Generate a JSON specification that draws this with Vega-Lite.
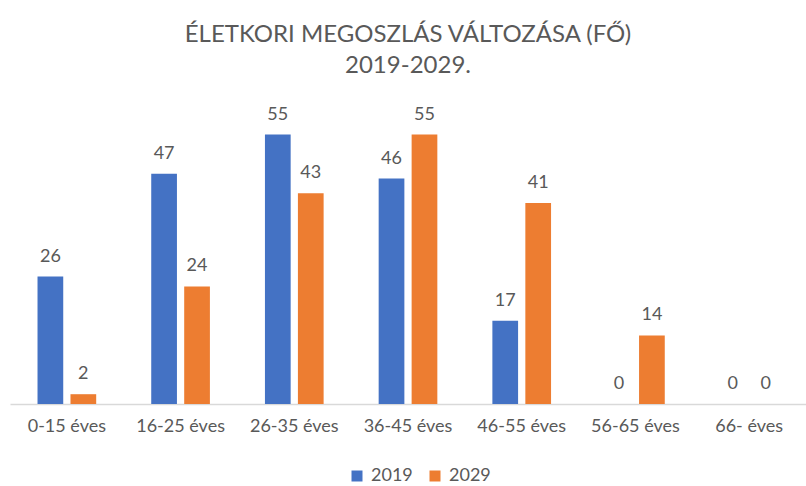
{
  "$schema": "https://vega.github.io/schema/vega-lite/v6.json",
  "autosize": "none",
  "width": 796,
  "height": 294,
  "padding": {"left": 10, "top": 110, "right": 0, "bottom": 82},
  "background": "white",
  "title": {
    "text": ["ÉLETKORI MEGOSZLÁS VÁLTOZÁSA (FŐ)", "2019-2029."],
    "font": "Lato",
    "fontSize": 24,
    "fontWeight": "normal",
    "color": "#595959",
    "lineHeight": 31,
    "anchor": "middle",
    "offset": 28
  },
  "data": {
    "values": [
      {"kor": "0-15 éves", "ev": "2019", "fo": 26},
      {"kor": "0-15 éves", "ev": "2029", "fo": 2},
      {"kor": "16-25 éves", "ev": "2019", "fo": 47},
      {"kor": "16-25 éves", "ev": "2029", "fo": 24},
      {"kor": "26-35 éves", "ev": "2019", "fo": 55},
      {"kor": "26-35 éves", "ev": "2029", "fo": 43},
      {"kor": "36-45 éves", "ev": "2019", "fo": 46},
      {"kor": "36-45 éves", "ev": "2029", "fo": 55},
      {"kor": "46-55 éves", "ev": "2019", "fo": 17},
      {"kor": "46-55 éves", "ev": "2029", "fo": 41},
      {"kor": "56-65 éves", "ev": "2019", "fo": 0},
      {"kor": "56-65 éves", "ev": "2029", "fo": 14},
      {"kor": "66- éves", "ev": "2019", "fo": 0},
      {"kor": "66- éves", "ev": "2029", "fo": 0}
    ]
  },
  "encoding": {
    "x": {
      "field": "kor",
      "type": "nominal",
      "sort": null,
      "title": null,
      "scale": {"paddingInner": 0.484, "paddingOuter": 0.242},
      "axis": {
        "labelAngle": 0,
        "labelFont": "Lato",
        "labelFontSize": 18,
        "labelColor": "#595959",
        "labelPadding": 13,
        "ticks": false,
        "domainColor": "#d9d9d9",
        "domainWidth": 1.5,
        "grid": false
      }
    },
    "xOffset": {
      "field": "ev",
      "type": "nominal",
      "scale": {"paddingInner": 0.22, "paddingOuter": 0}
    },
    "y": {
      "field": "fo",
      "type": "quantitative",
      "scale": {"domain": [0, 60], "nice": false},
      "axis": null
    }
  },
  "layer": [
    {
      "mark": {"type": "bar"},
      "encoding": {
        "color": {
          "field": "ev",
          "type": "nominal",
          "scale": {"domain": ["2019", "2029"], "range": ["#4472C4", "#ED7D31"]},
          "legend": {
            "orient": "none",
            "legendX": 338,
            "legendY": 357,
            "direction": "horizontal",
            "title": null,
            "symbolType": "square",
            "symbolSize": 121,
            "symbolStrokeWidth": 0,
            "labelFont": "Lato",
            "labelFontSize": 18,
            "labelColor": "#595959",
            "labelOffset": 5,
            "columnPadding": 13
          }
        }
      }
    },
    {
      "mark": {
        "type": "text",
        "baseline": "bottom",
        "dy": -11,
        "font": "Lato",
        "fontSize": 18,
        "color": "#595959"
      },
      "encoding": {
        "text": {"field": "fo", "type": "quantitative"}
      }
    }
  ],
  "config": {"view": {"stroke": null}}
}
